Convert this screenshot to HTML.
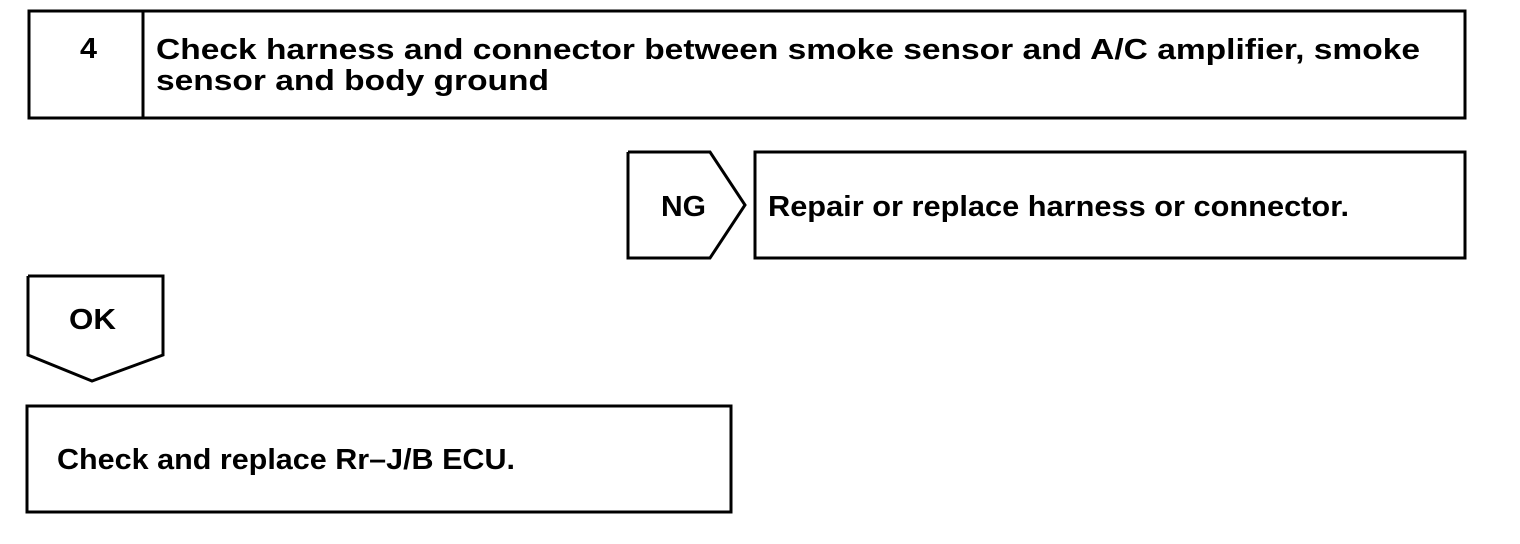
<!DOCTYPE html>
<html><head><style>html,body{margin:0;padding:0;background:#fff;}svg{display:block}text{font-family:"Liberation Sans",Arial,sans-serif;font-weight:bold;font-size:29px;fill:#000}</style></head>
<body>
<svg width="1520" height="544" viewBox="0 0 1520 544" xmlns="http://www.w3.org/2000/svg">
<g fill="none" stroke="#000" stroke-width="3">
<rect x="29" y="11" width="1436" height="107"/>
<line x1="143" y1="11" x2="143" y2="118"/>
<polyline points="628,152 710,152 745,205 710,258 628,258 628,152"/>
<rect x="755" y="152" width="710" height="106"/>
<polyline points="28,276 163,276 163,355 92,381 28,355 28,276"/>
<rect x="27" y="406" width="704" height="106"/>
</g>
<text x="80" y="58" textLength="17" lengthAdjust="spacingAndGlyphs">4</text>
<text x="156" y="59" textLength="1264" lengthAdjust="spacingAndGlyphs">Check harness and connector between smoke sensor and A/C amplifier, smoke</text>
<text x="156" y="90" textLength="393" lengthAdjust="spacingAndGlyphs">sensor and body ground</text>
<text x="661" y="216" textLength="45" lengthAdjust="spacingAndGlyphs">NG</text>
<text x="768" y="216" textLength="581" lengthAdjust="spacingAndGlyphs">Repair or replace harness or connector.</text>
<text x="69" y="329" textLength="47" lengthAdjust="spacingAndGlyphs">OK</text>
<text x="57" y="469" textLength="458" lengthAdjust="spacingAndGlyphs">Check and replace Rr–J/B ECU.</text>
</svg>
</body></html>
